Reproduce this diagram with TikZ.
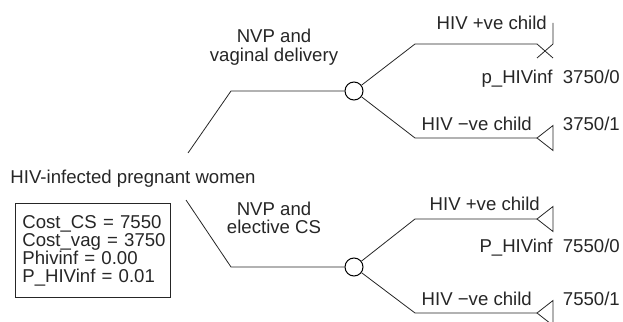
\documentclass[tikz,border=0pt]{standalone}
\usepackage{fontspec}
\setmainfont{Liberation Sans}
\usetikzlibrary{positioning}
\tikzset{
  lbl/.style={inner sep=0pt, text=black!85, font=\fontsize{18.6}{18}\selectfont},
  chance/.style={draw, circle, minimum size=18pt, inner sep=0pt, line width=1pt, fill=white},
  branch/.style={line width=0.8pt, draw=black!85},
  tipend/.style={line width=0.8pt, draw=black!85}
}
\begin{document}
\begin{tikzpicture}[x=1pt, y=-1pt]
    \useasboundingbox (0,0) rectangle (623,321);

    % Root and parameter box
    \node[lbl, anchor=base] (root) at (133,183) {HIV-infected pregnant women};
    \node[lbl, draw=black!85, line width=0.8pt, anchor=north west, text width=141pt, inner xsep=7pt,
          minimum height=94pt, align=left] (params) at (15,203)
          {Cost\_CS~=~7550\\Cost\_vag~=~3750\\Phivinf~=~0.00\\P\_HIVinf~=~0.01};

    % Decision branches
    \coordinate (r1) at (188,153);
    \coordinate (r2) at (186,200);
    \coordinate (k1) at (231,91);
    \coordinate (k2) at (231,267);
    \node[chance] (c1) at (354,91) {};
    \node[chance] (c2) at (354,267) {};
    \draw[branch] (r1) -- (k1) -- (c1);
    \draw[branch] (r2) -- (k2) -- (c2);
    \node[lbl, align=center, anchor=base] (vag) at (274,61) {NVP and\\vaginal delivery};
    \node[lbl, align=center, anchor=base] (cs) at (274,233) {NVP and\\elective CS};

    % First chance node (vaginal delivery)
    \coordinate (b1) at (415,44);
    \coordinate (e1) at (537,44);
    \coordinate (b2) at (415,138);
    \coordinate (e2) at (537,138);
    \draw[branch] (c1) -- (b1) -- (e1);
    \draw[branch] (c1) -- (b2) -- (e2);
    \draw[tipend] (e1) -- ++(16,14) (e1) ++(16,0) -- ++(-16,14) (e1) ++(16,0) -- ++(0,-21);
    \draw[tipend] (e2) -- ++(16,-12.5) -- ++(0,25) -- cycle;
    \node[lbl, anchor=base east] (pos1) at (547,30) {HIV +ve child};
    \node[lbl, anchor=base east] (pr1) at (620,83) {p\_HIVinf\ \ 3750/0};
    \node[lbl, anchor=base east] (neg1) at (532,130) {HIV −ve child};
    \node[lbl, anchor=base east] (pay1) at (620,130) {3750/1};

    % Second chance node (elective CS)
    \coordinate (b3) at (415,219);
    \coordinate (e3) at (537,219);
    \coordinate (b4) at (415,313);
    \coordinate (e4) at (537,313);
    \draw[branch] (c2) -- (b3) -- (e3);
    \draw[branch] (c2) -- (b4) -- (e4);
    \draw[tipend] (e3) -- ++(16,-12.5) -- ++(0,25) -- cycle;
    \draw[tipend] (e4) -- ++(16,-12.5) -- ++(0,25) -- cycle;
    \node[lbl, anchor=base east] (pos2) at (540,210) {HIV +ve child};
    \node[lbl, anchor=base east] (pr2) at (620,252) {P\_HIVinf\ \ 7550/0};
    \node[lbl, anchor=base east] (neg2) at (532,305) {HIV −ve child};
    \node[lbl, anchor=base east] (pay2) at (620,305) {7550/1};
\end{tikzpicture}
\end{document}
